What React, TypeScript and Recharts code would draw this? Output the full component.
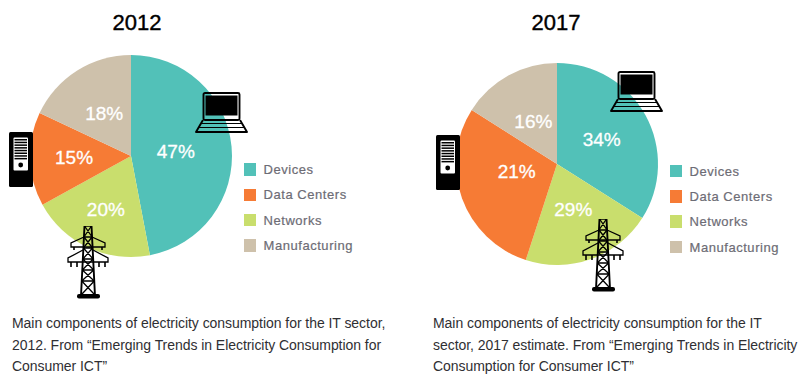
import React from "react";
import { PieChart, Pie, Legend } from "recharts";

const categories = ["Devices", "Data Centers", "Networks", "Manufacturing"];
const colors = ["#52c1b8", "#f67b35", "#c9de6d", "#cec1ab"];
const values2012 = [47, 15, 20, 18];
// Slice sizes as drawn in the picture
const values2017 = [34, 29, 21, 16];
// Percentages as printed on the slices
const printed2012 = [47, 15, 20, 18];
const printed2017 = [34, 21, 29, 16];
const sliceOrder = [0, 2, 1, 3];
const caption2012 = [
  "Main components of electricity consumption for the IT sector,",
  "2012. From \u201cEmerging Trends in Electricity Consumption for",
  "Consumer ICT\u201d",
];
const caption2017 = [
  "Main components of electricity consumption for the IT",
  "sector, 2017 estimate. From \u201cEmerging Trends in Electricity",
  "Consumption for Consumer ICT\u201d",
];

// label distance from the centre and angular nudge, per category
const labelRadius2012: Record<string, number> = { Devices: 45, Networks: 59, "Data Centers": 57, Manufacturing: 50 };
const labelRadius2017: Record<string, number> = { Devices: 51, Networks: 48, "Data Centers": 41, Manufacturing: 49 };
const labelShift2012: Record<string, number> = {};
const labelShift2017: Record<string, number> = { "Data Centers": -9 };

const font = "'Liberation Sans', Arial, sans-serif";
const RAD = Math.PI / 180;

function table(values: number[], printed: number[]) {
  return sliceOrder.map((i) => ({ name: categories[i], value: values[i], printed: printed[i], fill: colors[i] }));
}

function legendContent(props: any) {
  const byName: Record<string, string> = {};
  (props.payload || []).forEach((p: any) => (byName[p.value] = p.color));
  return (
    <div>
      {categories.map((c) => (
        <div key={c} style={{ display: "flex", alignItems: "center", height: 25.3 }}>
          <span style={{ display: "inline-block", width: 12.5, height: 12.5, background: byName[c], marginRight: 7.5 }} />
          <span style={{ font: `13px ${font}`, letterSpacing: 0.55, color: "#6d6c75", WebkitTextStroke: "0.2px #6d6c75" }}>{c}</span>
        </div>
      ))}
    </div>
  );
}

function makeLabel(radii: Record<string, number>, shifts: Record<string, number>) {
  return (p: any) => {
    const r = radii[p.name];
    const a = p.midAngle + (shifts[p.name] || 0);
    const x = p.cx + r * Math.cos(-a * RAD);
    const y = p.cy + r * Math.sin(-a * RAD);
    return (
      <text x={x} y={y} fill="#fff" stroke="#fff" strokeWidth={0.3} textAnchor="middle" dominantBaseline="central" fontFamily={font} fontSize={19}>
        {p.payload.printed}%
      </text>
    );
  };
}

function Donut({ left, cx, cy, values, printed, radii, shifts, legendLeft, legendTop }: any) {
  return (
    <div style={{ position: "absolute", left, top: 0 }}>
      <PieChart width={400} height={300} margin={{ top: 0, right: 0, bottom: 0, left: 0 }}>
        <Pie
          data={table(values, printed)}
          dataKey="value"
          nameKey="name"
          cx={cx}
          cy={cy}
          outerRadius={101}
          startAngle={90}
          endAngle={-270}
          stroke="none"
          isAnimationActive={false}
          labelLine={false}
          label={makeLabel(radii, shifts)}
        />
        <Legend
          layout="vertical"
          content={legendContent}
          wrapperStyle={{ left: legendLeft, top: legendTop, width: 140, bottom: "auto", right: "auto" }}
        />
      </PieChart>
    </div>
  );
}

function Laptop({ x, y }: { x: number; y: number }) {
  return (
    <svg style={{ position: "absolute", left: x, top: y }} width={53} height={42} viewBox="0 0 53 42">
      <rect x={8.5} y={1} width={36} height={27} rx={1.5} fill="none" stroke="#000" strokeWidth={1.9} />
      <rect x={10.5} y={3.5} width={32} height={20} fill="#000" />
      <path d="M8 28 L1 40 H52 L45 28" fill="none" stroke="#000" strokeWidth={1.9} strokeLinejoin="round" />
      <path d="M6 31.5 H47 M4 35.5 H49" stroke="#000" strokeWidth={1.2} />
    </svg>
  );
}

function Server({ x, y }: { x: number; y: number }) {
  const bars = [7, 9.7, 12.4, 15.1, 17.8, 20.5, 23.2, 25.9];
  return (
    <svg style={{ position: "absolute", left: x, top: y }} width={24} height={55} viewBox="0 0 24 55">
      <rect x={0} y={0} width={24} height={55} rx={1.5} fill="#000" />
      <rect x={4.5} y={5.5} width={14.5} height={33} rx={1} fill="#fff" />
      {bars.map((b) => (
        <rect key={b} x={5.5} y={b} width={12.5} height={1.5} fill="#000" />
      ))}
      <circle cx={11.7} cy={33} r={2.4} fill="#000" />
    </svg>
  );
}

function Tower({ x, y }: { x: number; y: number }) {
  const levels = [0, 11, 22, 33, 44, 55, 69];
  const width = (h: number) => 3.5 + h * 0.05;
  let lattice = "";
  for (let i = 0; i < levels.length - 1; i++) {
    const a = levels[i], b = levels[i + 1];
    lattice += `M${21 - width(a)} ${a} L${21 + width(b)} ${b} M${21 + width(a)} ${a} L${21 - width(b)} ${b} `;
    lattice += `M${21 - width(a)} ${a} H${21 + width(a)} `;
  }
  return (
    <svg style={{ position: "absolute", left: x, top: y }} width={42} height={73} viewBox="0 0 42 73">
      <path d={`M${21 - width(0)} 0 L${21 - width(69)} 69 M${21 + width(0)} 0 L${21 + width(69)} 69`} stroke="#000" strokeWidth={1.9} fill="none" />
      <path d={lattice} stroke="#000" strokeWidth={1.3} fill="none" />
      <path d="M17 11 L4 17 V21 H38 V17 L25 11" stroke="#000" strokeWidth={1.3} fill="none" />
      <path d="M16 24 L1 32 V36 H41 V32 L26 24" stroke="#000" strokeWidth={1.3} fill="none" />
      <path d="M7 21 V24 M35 21 V24 M4 36 V41 M10 36 V41 M32 36 V41 M38 36 V41" stroke="#000" strokeWidth={1.6} />
      <rect x={10} y={68} width={23} height={4.5} rx={2} fill="#000" />
    </svg>
  );
}

function Caption({ x, lines }: { x: number; lines: string[] }) {
  return (
    <div style={{ position: "absolute", left: x, top: 313, font: `14px/21.5px ${font}`, letterSpacing: -0.05, color: "#2f2f33", whiteSpace: "nowrap" }}>
      {lines.map((l) => (
        <div key={l}>{l}</div>
      ))}
    </div>
  );
}

function Title({ cx, text }: { cx: number; text: string }) {
  return (
    <div style={{ position: "absolute", left: cx - 50, width: 100, top: 10, textAlign: "center", font: `22px/26px ${font}`, color: "#000", WebkitTextStroke: "0.4px #000" }}>
      {text}
    </div>
  );
}

export default function App() {
  return (
    <div style={{ position: "absolute", left: 0, top: 0, width: 800, height: 381, background: "#fff", overflow: "hidden" }}>
      <Title cx={137} text="2012" />
      <Title cx={556} text="2017" />
      <Donut left={0} cx={131} cy={156} values={values2012} printed={printed2012} radii={labelRadius2012} shifts={labelShift2012} legendLeft={243.5} legendTop={157} />
      <Donut left={400} cx={157} cy={164} values={values2017} printed={printed2017} radii={labelRadius2017} shifts={labelShift2017} legendLeft={269.5} legendTop={158.5} />
      <Laptop x={195} y={92} />
      <Laptop x={610} y={71} />
      <Server x={9} y={132} />
      <Server x={436} y={135} />
      <Tower x={67} y={226} />
      <Tower x={582} y={219} />
      <Caption x={12} lines={caption2012} />
      <Caption x={433} lines={caption2017} />
    </div>
  );
}
